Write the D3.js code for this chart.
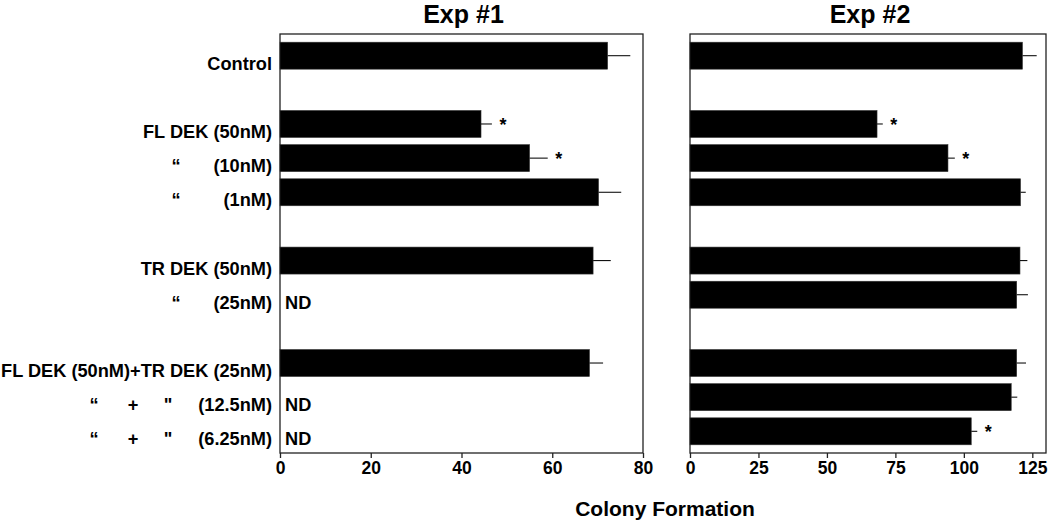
<!DOCTYPE html>
<html>
<head>
<meta charset="utf-8">
<script src="https://cdn.jsdelivr.net/npm/d3@7"></script>
<style>
  html, body { margin: 0; padding: 0; background: #fff; }
  svg { display: block; font-family: "Liberation Sans", Arial, Helvetica, sans-serif; }
</style>
</head>
<body>
<svg id="chart" width="1050" height="522"></svg>
<script>
// ---- data ----
const categories = [
  "Control",
  "FL DEK (50nM)",
  "“\t(10nM)",
  "“\t(1nM)",
  "TR DEK (50nM)",
  "“\t(25nM)",
  "FL DEK (50nM)+TR DEK (25nM)",
  "“\t+\t\"\t(12.5nM)",
  "“\t+\t\"\t(6.25nM)"
];
const groups = ["Control", "FL", "FL", "FL", "TR", "TR", "Combo", "Combo", "Combo"];

const exp1Values = [72.2, 44.3, 55.0, 70.2, 69.0, null, 68.2, null, null];
const exp1Errors = [5.0, 2.4, 4.0, 5.0, 3.9, null, 3.0, null, null];
const exp1Signif = [false, true, true, false, false, false, false, false, false];

const exp2Values = [121.4, 68.3, 94.2, 120.7, 120.5, 119.3, 119.3, 117.3, 102.7];
const exp2Errors = [5.2, 2.1, 2.5, 1.9, 2.7, 4.1, 3.4, 2.2, 2.2];
const exp2Signif = [false, true, true, false, false, false, false, false, true];

const exp1Ticks = [0, 20, 40, 60, 80];
const exp2Ticks = [0, 25, 50, 75, 100, 125];
const exp1Domain = [0, 80];
const exp2Domain = [0, 130];

const titles = ["Exp #1", "Exp #2"];
const xTitle = "Colony Formation";
const missingLabel = "ND";

// ---- layout ----
const svg = d3.select("#chart");
const plotTop = 34, plotBottom = 453;
const fontFam = '"Liberation Sans", Arial, Helvetica, sans-serif';

// build row slots: spacer between groups
const slots = [];
categories.forEach((c, i) => {
  if (i > 0 && groups[i] !== groups[i - 1]) slots.push("gap" + i);
  slots.push("row" + i);
});
const y = d3.scaleBand().domain(slots).range([plotTop, plotBottom]).paddingInner(0.21).paddingOuter(0.24);
const rowKey = i => "row" + i;

// ---- category labels ----
const labelRight = 272;
const labelG = svg.append("g");
categories.forEach((c, i) => {
  const parts = c.split("\t");
  const yb = y(rowKey(i)) + y.bandwidth() / 2 + 14;
  const cols = parts.length === 2 ? [176] : [94, 133, 168];
  labelG.append("text")
    .attr("x", labelRight).attr("y", yb)
    .attr("text-anchor", "end")
    .attr("font-size", 18.2).attr("font-weight", "bold")
    .text(parts[parts.length - 1]);
  for (let k = 0; k < parts.length - 1; k++) {
    labelG.append("text")
      .attr("x", cols[k]).attr("y", yb)
      .attr("text-anchor", "middle")
      .attr("font-size", 18.2).attr("font-weight", "bold")
      .text(parts[k]);
  }
});

// ---- panels ----
const panels = [
  { x0: 280, x1: 643, domain: exp1Domain, ticks: exp1Ticks, values: exp1Values, errors: exp1Errors, sig: exp1Signif, title: titles[0] },
  { x0: 690, x1: 1046, domain: exp2Domain, ticks: exp2Ticks, values: exp2Values, errors: exp2Errors, sig: exp2Signif, title: titles[1] }
];

panels.forEach(p => {
  const x = d3.scaleLinear().domain(p.domain).range([p.x0, p.x1]);
  const g = svg.append("g");

  // frame
  g.append("rect")
    .attr("x", p.x0).attr("y", plotTop)
    .attr("width", p.x1 - p.x0).attr("height", plotBottom - plotTop)
    .attr("fill", "none").attr("stroke", "#222").attr("stroke-width", 1.3);

  const idx = d3.range(categories.length);

  // bars
  g.selectAll("rect.bar")
    .data(idx.filter(i => p.values[i] != null))
    .join("rect")
    .attr("class", "bar")
    .attr("x", x(0))
    .attr("y", i => y(rowKey(i)))
    .attr("width", i => x(p.values[i]) - x(0))
    .attr("height", y.bandwidth())
    .attr("fill", "#000")
    .attr("stroke", "#333").attr("stroke-width", 0.6);

  // error bars (one-sided)
  g.selectAll("line.err")
    .data(idx.filter(i => p.values[i] != null))
    .join("line")
    .attr("class", "err")
    .attr("x1", i => x(p.values[i]))
    .attr("x2", i => x(p.values[i] + p.errors[i]))
    .attr("y1", i => y(rowKey(i)) + y.bandwidth() / 2)
    .attr("y2", i => y(rowKey(i)) + y.bandwidth() / 2)
    .attr("stroke", "#111").attr("stroke-width", 1.1);

  // significance stars
  g.selectAll("text.star")
    .data(idx.filter(i => p.values[i] != null && p.sig[i]))
    .join("text")
    .attr("class", "star")
    .attr("x", i => x(p.values[i] + p.errors[i]) + 11)
    .attr("y", i => y(rowKey(i)) + y.bandwidth() / 2 + 7)
    .attr("text-anchor", "middle")
    .attr("font-size", 18).attr("font-weight", "bold")
    .text("*");

  // ND labels
  g.selectAll("text.nd")
    .data(idx.filter(i => p.values[i] == null))
    .join("text")
    .attr("class", "nd")
    .attr("x", x(0) + 5)
    .attr("y", i => y(rowKey(i)) + y.bandwidth() / 2 + 14)
    .attr("font-size", 18.2).attr("font-weight", "bold")
    .text(missingLabel);

  // x axis
  const axis = d3.axisBottom(x).tickValues(p.ticks).tickSize(5).tickSizeOuter(0).tickPadding(4);
  const ax = g.append("g").attr("transform", `translate(0,${plotBottom})`).call(axis);
  ax.select(".domain").remove();
  ax.selectAll(".tick line").attr("stroke", "#222").attr("stroke-width", 1.3);
  ax.selectAll(".tick text")
    .attr("font-family", fontFam)
    .attr("font-size", 17.5).attr("font-weight", "bold").attr("fill", "#000")
    .attr("dy", "0.7em");

  // title
  g.append("text")
    .attr("x", (p.x0 + p.x1) / 2 + 2).attr("y", 23)
    .attr("text-anchor", "middle")
    .attr("font-size", 25).attr("font-weight", "bold")
    .text(p.title);
});

// x axis title
svg.append("text")
  .attr("x", 665).attr("y", 516)
  .attr("text-anchor", "middle")
  .attr("font-size", 21).attr("font-weight", "bold")
  .text(xTitle);
</script>
</body>
</html>
